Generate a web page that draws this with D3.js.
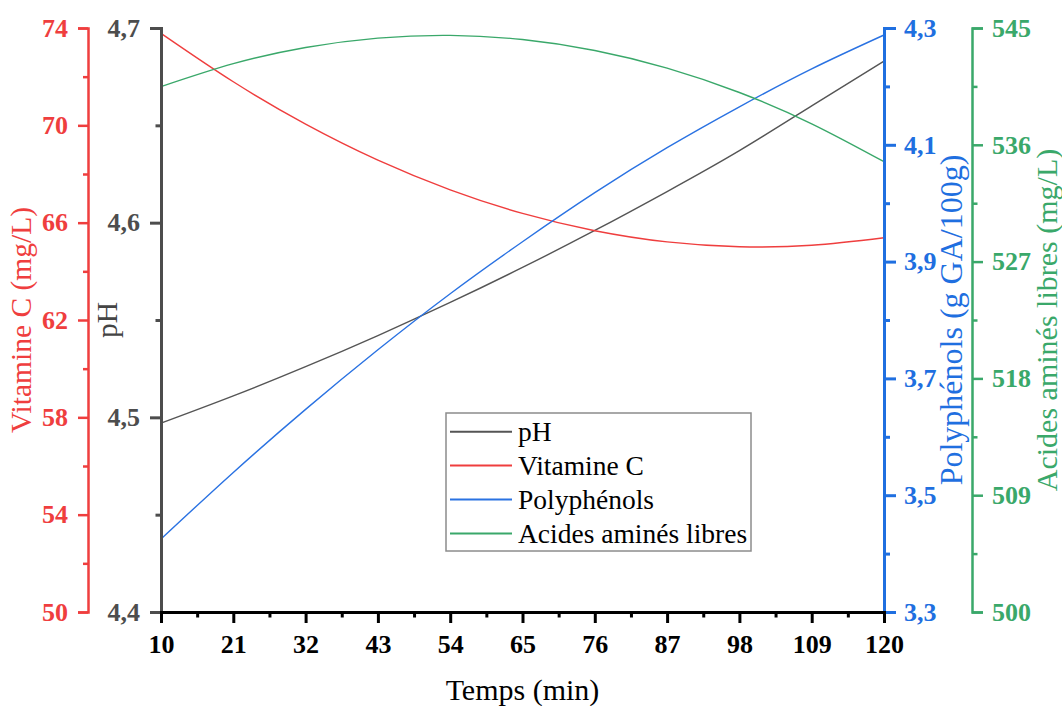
<!DOCTYPE html>
<html>
<head>
<meta charset="utf-8">
<script src="https://cdn.jsdelivr.net/npm/d3@7"></script>
<style>
  html, body { margin: 0; padding: 0; background: #fff; }
  svg { display: block; }
  text { font-family: "Liberation Serif", "Times New Roman", serif; }
</style>
</head>
<body>
<svg id="chart" width="1062" height="706"></svg>
<script>
// Sampling times (min)
const times = [10, 21, 32, 43, 54, 65, 76, 87, 98, 109, 120];

// Measured series
const phValues       = [4.497, 4.511, 4.526, 4.542, 4.559, 4.577, 4.596, 4.616, 4.637, 4.660, 4.683];
const vitCValues     = [73.78, 71.79, 70.05, 68.57, 67.35, 66.38, 65.67, 65.21, 65.01, 65.07, 65.38];
const polyValues     = [3.425, 3.539, 3.647, 3.749, 3.845, 3.934, 4.018, 4.095, 4.165, 4.230, 4.288];
const aminoValues    = [540.48, 542.25, 543.50, 544.22, 544.43, 544.11, 543.27, 541.91, 540.03, 537.62, 534.70];

// Axis ticks
const xTicks      = [10, 21, 32, 43, 54, 65, 76, 87, 98, 109, 120];
const xMinor      = [15.5, 26.5, 37.5, 48.5, 59.5, 70.5, 81.5, 92.5, 103.5, 114.5];
const vitCTicks   = [50, 54, 58, 62, 66, 70, 74];
const vitCMinor   = [52, 56, 60, 64, 68, 72];
const phTicks     = [4.4, 4.5, 4.6, 4.7];
const phMinor     = [4.45, 4.55, 4.65];
const polyTicks   = [3.3, 3.5, 3.7, 3.9, 4.1, 4.3];
const polyMinor   = [3.4, 3.6, 3.8, 4.0, 4.2];
const aminoTicks  = [500, 509, 518, 527, 536, 545];
const aminoMinor  = [504.5, 513.5, 522.5, 531.5, 540.5];

const seriesNames = ["pH", "Vitamine C", "Polyphénols", "Acides aminés libres"];

const colors = {
  ph: "#555555", phAxis: "#4d4d4d",
  red: "#ef3e3e",
  blue: "#2a72e2", blueAxis: "#1f6fe0",
  green: "#3aa86a"
};

const plotLeft = 161, plotRight = 884, plotTop = 28, plotBottom = 612;
const svg = d3.select("#chart");

const x = d3.scaleLinear().domain([10, 120]).range([plotLeft, plotRight]);
const yPh = d3.scaleLinear().domain([4.4, 4.7]).range([plotBottom, plotTop]);
const yVit = d3.scaleLinear().domain([50, 74]).range([plotBottom, plotTop]);
const yPoly = d3.scaleLinear().domain([3.3, 4.3]).range([plotBottom, plotTop]);
const yAmino = d3.scaleLinear().domain([500, 545]).range([plotBottom, plotTop]);

const comma = v => d3.format(".1f")(v).replace(".", ",");

function drawAxis(axisFn, scale, pos, ticks, minor, color, width, fmt, size, pad) {
  const g = svg.append("g").attr("transform", pos);
  g.call(axisFn(scale).tickValues(minor).tickSize(size * 0.5).tickFormat(""));
  const main = svg.append("g").attr("transform", pos);
  main.call(axisFn(scale).tickValues(ticks).tickSizeOuter(0).tickSize(size).tickPadding(pad).tickFormat(fmt));
  [g, main].forEach(s => {
    s.selectAll("path.domain").attr("stroke", color).attr("stroke-width", width);
    s.selectAll(".tick line").attr("stroke", color).attr("stroke-width", width);
  });
  g.select("path.domain").remove();
  main.selectAll(".tick text")
    .attr("fill", color)
    .style("font-family", "'Liberation Serif', 'Times New Roman', serif")
    .style("font-weight", "bold")
    .style("font-size", "26px");
  return main;
}

// Curves
const line = yScale => d3.line()
  .x((d, i) => x(times[i]))
  .y(d => yScale(d))
  .curve(d3.curveNatural);

const curves = [
  { values: phValues, scale: yPh, color: colors.ph },
  { values: vitCValues, scale: yVit, color: colors.red },
  { values: polyValues, scale: yPoly, color: colors.blue },
  { values: aminoValues, scale: yAmino, color: colors.green }
];
curves.forEach(c => {
  svg.append("path")
    .datum(c.values)
    .attr("d", line(c.scale))
    .attr("fill", "none")
    .attr("stroke", c.color)
    .attr("stroke-width", 1.4);
});

// Axes
drawAxis(d3.axisLeft, yVit, "translate(88,0)", vitCTicks, vitCMinor, colors.red, 2.5, d3.format("d"), 10, 10);
drawAxis(d3.axisLeft, yPh, `translate(${plotLeft},0)`, phTicks, phMinor, colors.phAxis, 3, comma, 11, 10);
drawAxis(d3.axisRight, yPoly, `translate(${plotRight},0)`, polyTicks, polyMinor, colors.blueAxis, 3, comma, 12, 8);
drawAxis(d3.axisRight, yAmino, "translate(972,0)", aminoTicks, aminoMinor, colors.green, 2.5, d3.format("d"), 11, 9);
drawAxis(d3.axisBottom, x, `translate(0,${plotBottom})`, xTicks, xMinor, "#000000", 3, d3.format("d"), 11, 12);

// Axis titles
const title = (txt, tx, ty, rot, color, size) => svg.append("text")
  .attr("transform", `translate(${tx},${ty}) rotate(${rot})`)
  .attr("text-anchor", "middle")
  .attr("fill", color)
  .style("font-size", size + "px")
  .text(txt);

title("Vitamine C (mg/L)", 31, 320, -90, colors.red, 29.5);
title("pH", 117, 320, -90, "#444444", 29.5);
title("Polyphénols (g GA/100g)", 962, 320, -90, colors.blueAxis, 32);
title("Acides aminés libres (mg/L)", 1057, 320, -90, colors.green, 30);
title("Temps (min)", (plotLeft + plotRight) / 2, 700, 0, "#000000", 30);

// Legend
const legend = svg.append("g");
legend.append("rect")
  .attr("x", 446).attr("y", 413).attr("width", 305).attr("height", 138)
  .attr("fill", "#fff").attr("stroke", "#8c8c8c").attr("stroke-width", 1.5);
const legendColors = [colors.ph, colors.red, colors.blue, colors.green];
seriesNames.forEach((name, i) => {
  const ly = 431.7 + i * 33.9;
  legend.append("line")
    .attr("x1", 450).attr("x2", 512).attr("y1", ly).attr("y2", ly)
    .attr("stroke", legendColors[i]).attr("stroke-width", 2);
  legend.append("text")
    .attr("x", 518).attr("y", ly).attr("dy", "0.35em")
    .attr("fill", "#000")
    .style("font-size", "27.5px")
    .text(name);
});
</script>
</body>
</html>
